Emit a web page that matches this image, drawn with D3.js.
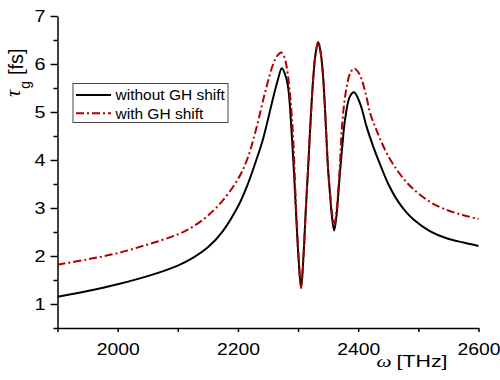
<!DOCTYPE html>
<html lang="en">
  <head>
    <meta charset="utf-8">
    <title>Group delay vs frequency</title>
    <script src="https://d3js.org/d3.v7.min.js"></script>
    <style>
      body { margin: 0; background: #fff; }
      svg text { font-family: "Liberation Sans", Arial, sans-serif; fill: #000; }
    </style>
  </head>
  <body>
    <script>

  // size of the picture
  var w = 500;
  var h = 380;
  var margin = {top: 16, right: 21.5, bottom: 52, left: 57.5};

  // tick values
  var xTicks = [1900, 2000, 2100, 2200, 2300, 2400, 2500, 2600];
  var yTicks = [0.5, 1, 1.5, 2, 2.5, 3, 3.5, 4, 4.5, 5, 5.5, 6, 6.5, 7];

  var seriesNames = ["without GH shift", "with GH shift"];

  // curve without GH shift (omega in THz, tau in fs)
  var omegaNoGH = [1900, 1950, 2000, 2050, 2100, 2125, 2150, 2175, 2200, 2215, 2230, 2242, 2259, 2266, 2273,
    2280, 2284, 2289, 2293, 2297, 2301, 2305, 2309, 2313, 2317, 2320, 2325, 2329, 2333.5, 2338, 2342,
    2346.5, 2350, 2353, 2356, 2360, 2364, 2367, 2370, 2374, 2378, 2386, 2393, 2403, 2414, 2425, 2436,
    2450, 2464, 2478, 2492, 2519, 2547, 2575, 2600];
  var tauNoGH = [1.15, 1.27, 1.41, 1.58, 1.80, 1.96, 2.18, 2.52, 3.03, 3.45, 3.98, 4.45, 5.32, 5.65, 5.91,
    5.72, 5.46, 4.63, 3.79, 2.80, 1.90, 1.33, 2.00, 3.00, 3.90, 4.63, 5.67, 6.20, 6.46, 6.20, 5.67,
    4.63, 3.79, 3.31, 2.85, 2.53, 2.85, 3.31, 3.79, 4.35, 4.83, 5.32, 5.41, 5.18, 4.69, 4.28, 3.92,
    3.50, 3.18, 2.94, 2.76, 2.52, 2.37, 2.28, 2.21];

  // curve with GH shift
  var omegaGH = [1900, 1950, 2000, 2050, 2100, 2125, 2150, 2175, 2200, 2215, 2230, 2245, 2259, 2266,
    2272, 2277, 2281, 2287, 2292, 2296, 2300, 2305, 2309, 2313, 2317, 2320, 2325, 2329, 2333.5, 2338,
    2342, 2346.5, 2350, 2353, 2356, 2360, 2364, 2367, 2370, 2372.6, 2376, 2381, 2387, 2393.5, 2400,
    2406, 2413, 2420, 2428, 2436, 2450, 2464, 2478, 2492, 2519, 2547, 2575, 2600];
  var tauGH = [1.82, 1.93, 2.06, 2.24, 2.45, 2.61, 2.84, 3.16, 3.60, 4.00, 4.63, 5.40, 6.01, 6.18,
    6.24, 6.15, 5.94, 5.32, 4.42, 3.20, 2.20, 1.36, 2.00, 3.00, 3.90, 4.63, 5.67, 6.20, 6.46, 6.20,
    5.67, 4.63, 3.79, 3.35, 2.95, 2.65, 2.95, 3.40, 4.00, 4.63, 5.10, 5.53, 5.82, 5.91, 5.83,
    5.67, 5.35, 4.97, 4.70, 4.45, 4.08, 3.80, 3.57, 3.39, 3.13, 2.96, 2.85, 2.77];

  var lineColors = ["#000000", "#b00000"];
  var lineDash = [null, "8,3,2,3"];

  var xScale = d3.scaleLinear()
    .domain([1900, 2600])
    .range([margin.left, w - margin.right]);

  var yScale = d3.scaleLinear()
    .domain([0.5, 7])
    .range([h - margin.bottom, margin.top]);

  var svg = d3.select("body")
    .append("svg")
    .attr("width", w)
    .attr("height", h);

  // x axis
  var xAxis = d3.axisBottom(xScale)
    .tickValues(xTicks)
    .tickSize(4)
    .tickSizeOuter(0)
    .tickPadding(12)
    .tickFormat(d => d % 200 === 0 ? d : "");

  var gx = svg.append("g")
    .attr("class", "xAxis")
    .attr("transform", `translate(0, ${h - margin.bottom})`)
    .call(xAxis);

  gx.selectAll("text")
    .attr("font-size", 16)
    .filter(d => d % 200 === 0)
    .attr("textLength", 43)
    .attr("lengthAdjust", "spacingAndGlyphs");

  // y axis, long ticks on whole numbers
  var yAxis = d3.axisLeft(yScale)
    .tickValues(yTicks)
    .tickSize(4)
    .tickSizeOuter(0)
    .tickPadding(8)
    .tickFormat(d => Number.isInteger(d) ? d : "");

  var gy = svg.append("g")
    .attr("class", "yAxis")
    .attr("transform", `translate(${margin.left}, 0)`)
    .call(yAxis);

  gy.selectAll(".tick line")
    .attr("x2", d => Number.isInteger(d) ? -7 : -4);

  gy.selectAll("text")
    .attr("font-size", 16)
    .filter(d => Number.isInteger(d))
    .attr("textLength", 11)
    .attr("lengthAdjust", "spacingAndGlyphs");

  svg.selectAll(".domain, .tick line")
    .attr("stroke", "#000")
    .attr("stroke-width", 1.5);

  // the curves
  var curves = [
    d3.zip(omegaNoGH, tauNoGH),
    d3.zip(omegaGH, tauGH)
  ];

  var line = d3.line()
    .x(d => xScale(d[0]))
    .y(d => yScale(d[1]))
    .curve(d3.curveCatmullRom.alpha(0.5));

  svg.selectAll(".curve")
    .data(curves)
    .enter()
    .append("path")
    .attr("class", "curve")
    .attr("d", line)
    .attr("fill", "none")
    .attr("stroke", (d, i) => lineColors[i])
    .attr("stroke-width", 2)
    .attr("stroke-dasharray", (d, i) => lineDash[i]);

  // legend
  var legend = svg.append("g")
    .attr("transform", "translate(73, 83.5)");

  legend.append("rect")
    .attr("width", 155)
    .attr("height", 39)
    .attr("fill", "#fff")
    .attr("stroke", "#444")
    .attr("stroke-width", 1);

  var items = legend.selectAll(".item")
    .data(seriesNames)
    .enter()
    .append("g")
    .attr("class", "item")
    .attr("transform", (d, i) => `translate(0, ${11.5 + i * 18.3})`);

  items.append("line")
    .attr("x1", 3)
    .attr("x2", 38)
    .attr("stroke", (d, i) => lineColors[i])
    .attr("stroke-width", 2)
    .attr("stroke-dasharray", (d, i) => lineDash[i]);

  items.append("text")
    .attr("x", 42.5)
    .attr("y", 5.3)
    .attr("font-size", 15.5)
    .text(d => d);

  // axis titles
  var xTitle = svg.append("text")
    .attr("x", 376.5)
    .attr("y", 367)
    .attr("font-size", 17);
  xTitle.append("tspan")
    .attr("font-family", "'Liberation Serif', 'Times New Roman', serif")
    .attr("font-style", "italic")
    .text("ω");
  xTitle.append("tspan")
    .attr("dx", 4)
    .text("[THz]");
  xTitle.attr("textLength", 71).attr("lengthAdjust", "spacingAndGlyphs");

  var yTitle = svg.append("text")
    .attr("transform", "translate(23, 97) rotate(-90)")
    .attr("font-size", 20);
  yTitle.append("tspan")
    .attr("font-family", "'Liberation Serif', 'Times New Roman', serif")
    .attr("font-style", "italic")
    .attr("font-size", 20)
    .attr("dy", -3)
    .text("τ");
  yTitle.append("tspan")
    .attr("font-size", 14)
    .attr("dx", 1)
    .attr("dy", 10)
    .text("g");
  yTitle.append("tspan")
    .attr("dx", 6)
    .attr("dy", -7)
    .text("[fs]");

    </script>
  </body>
</html>
